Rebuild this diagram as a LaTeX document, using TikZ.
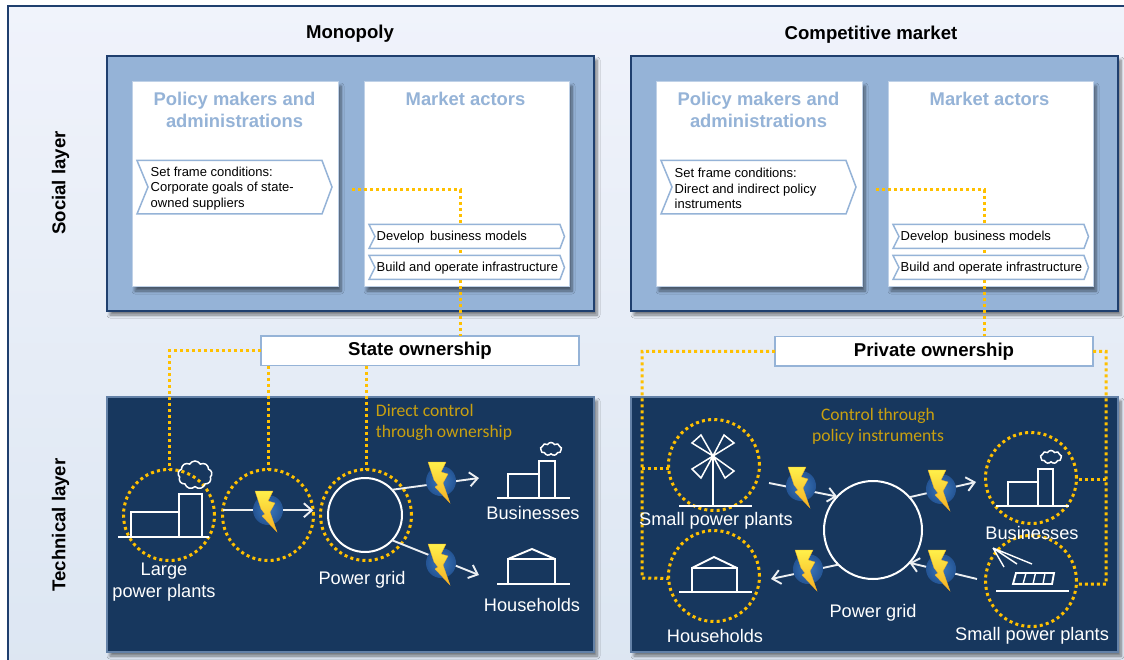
\documentclass[tikz,border=0pt]{standalone}
\usepackage{fontspec}
\setmainfont{Liberation Sans}
\newfontfamily\calib{Carlito}
\usetikzlibrary{arrows.meta,shapes.symbols,shadows.blur,calc}
\definecolor{navy}{HTML}{17375E}
\definecolor{edge}{HTML}{1F3F6E}
\definecolor{mid}{HTML}{95B3D7}
\definecolor{amber}{HTML}{FFC000}
\definecolor{gold}{HTML}{C9A010}
\definecolor{bgtop}{HTML}{F0F3FB}
\definecolor{bgbot}{HTML}{DCE6F2}
\definecolor{ballin}{HTML}{3B78BC}
\definecolor{ballout}{HTML}{245494}
\definecolor{boltA}{HTML}{FFF04A}
\definecolor{boltB}{HTML}{F5B025}
\tikzset{
  softshadow/.style={blur shadow={shadow xshift=3pt,shadow yshift=-4pt,shadow blur steps=6,shadow blur radius=3pt,shadow opacity=50}},
  panelS/.style={draw=edge,line width=1.6pt,fill=mid,anchor=north west,inner sep=0pt,outer sep=0pt,minimum width=487pt,minimum height=255pt,softshadow},
  panelT/.style={panelS,fill=navy,draw=mid!60!navy},
  whitebox/.style={draw=mid!60,line width=1pt,fill=white,anchor=north west,inner sep=0pt,outer sep=0pt,minimum width=206pt,minimum height=205pt,softshadow},
  ownbox/.style={draw=mid,line width=1.5pt,fill=white,anchor=north west,inner sep=0pt,outer sep=0pt,minimum width=318pt,minimum height=29.5pt,font=\fontsize{18.6}{20}\selectfont\bfseries},
  chev/.style={draw=mid,line width=1.5pt,fill=white,line join=miter},
  chevtext/.style={anchor=west,align=left,inner sep=0pt,font=\fontsize{13}{15.6}\selectfont},
  head/.style={text=mid,align=center,font=\fontsize{18.4}{21.5}\selectfont\bfseries,inner sep=0pt},
  title/.style={font=\fontsize{18.6}{21}\selectfont\bfseries,inner sep=0pt},
  ctl/.style={draw=amber,line width=3pt,dash pattern=on 3pt off 3pt},
  ring/.style={circle,draw=amber,line width=3pt,dash pattern=on 3pt off 3.2pt,inner sep=0pt,outer sep=0pt,minimum size=91pt},
  gridring/.style={circle,draw=white,line width=2pt,inner sep=0pt,outer sep=0pt},
  icon/.style={draw=white,line width=1.9pt,line join=miter},
  flow/.style={draw=white!92!navy,line width=1.9pt,-{Straight Barb[length=8pt,width=14pt,line width=1.9pt]}},
  lab/.style={text=white,align=center,inner sep=0pt,font=\fontsize{18.2}{22}\selectfont},
  goldlab/.style={text=gold,align=left,inner sep=0pt,font=\calib\fontsize{17.6}{21}\selectfont},
  ballnode/.style={circle,inner sep=0pt,minimum size=30pt,inner color=ballin,outer color=ballout},
  smoke/.style={cloud,cloud puffs=9,cloud puff arc=120,draw=white,line width=1.5pt,inner sep=0pt,outer sep=0pt,aspect=1.5}
}
\newcommand{\boltball}[3]{%
  \node[ballnode] (#1) at (#2,#3) {};
  \begin{scope}[shift={(#2,#3)}]
    \path[top color=boltA,bottom color=boltB,draw=boltB,line width=.3pt,line join=miter]
      (-13,-19) -- (5,-19) -- (0,-9) -- (7,-7) -- (2,2) -- (9,22) -- (-6,6) -- (-3,4) -- (-7,-1) -- cycle;
  \end{scope}}
\begin{document}
\begin{tikzpicture}[x=1pt,y=-1pt]
\useasboundingbox (0,0) rectangle (1124,660);
\fill[white] (0,0) rectangle (1124,660);
% background frame
\path[draw=edge,line width=2pt,top color=bgtop,bottom color=bgbot] (8,6) rectangle (1140,680);

% titles
\node[title] (tm) at (350,34) {Monopoly};
\node[title] (tc) at (871,35) {Competitive market};
\node[title,rotate=90] (ls) at (60.5,183) {Social layer};
\node[title,rotate=90] (lt) at (60.5,525) {Technical layer};

% social panels
\node[panelS] (sl) at (107,56) {};
\node[panelS] (sr) at (631,56) {};
\node[whitebox] (pl) at (132,82) {};
\node[whitebox,minimum width=205pt] (ml) at (364,82) {};
\node[whitebox] (pr) at (656,82) {};
\node[whitebox,minimum width=205pt] (mr) at (888,82) {};
\node[head] (hpl) at (234.5,110) {Policy makers and\\administrations};
\node[head] (hml) at (465.5,99) {Market actors};
\node[head] (hpr) at (758.5,110) {Policy makers and\\administrations};
\node[head] (hmr) at (989.5,99) {Market actors};

% technical panels
\node[panelT] (tl) at (107,397) {};
\node[panelT] (tr) at (631,397) {};

% ownership boxes
\coordinate (sgL) at (352,190);
\coordinate (sgR) at (876,190);
\node[ownbox] (own) at (261,336) {State ownership};
\node[ownbox] (prv) at (775,336.5) {Private ownership};
\coordinate (ownIn) at (460,336);
\coordinate (prvIn) at (984,336);
\draw[ctl] (sgL) -| (ownIn);
\draw[ctl] (sgR) -| (prvIn);

% chevrons, left
\draw[chev] (137,160.5) -- (322,160.5) -- (332,187) -- (322,214) -- (137,214) -- (148,187) -- cycle;
\node[chevtext] (cl) at (150.5,188.5) {Set frame conditions:\\Corporate goals of state-\\owned suppliers};
\draw[chev] (369,224.5) -- (560,224.5) -- (564.5,236.5) -- (560,248.5) -- (369,248.5) -- (375,236.5) -- cycle;
\node[chevtext] (dl) at (376.5,237.5) {Develop\, business models};
\draw[chev] (369,255.5) -- (560,255.5) -- (564.5,267.5) -- (560,279.5) -- (369,279.5) -- (375,267.5) -- cycle;
\node[chevtext] (bl) at (376.5,268.5) {Build and operate infrastructure};
% chevrons, right
\draw[chev] (661,160.5) -- (846,160.5) -- (856,187) -- (846,214) -- (661,214) -- (672,187) -- cycle;
\node[chevtext] (cr) at (674.5,188.5) {Set frame conditions:\\Direct and indirect policy\\instruments};
\draw[chev] (893,224.5) -- (1084,224.5) -- (1088.5,236.5) -- (1084,248.5) -- (893,248.5) -- (899,236.5) -- cycle;
\node[chevtext] (dr) at (900.5,237.5) {Develop\, business models};
\draw[chev] (893,255.5) -- (1084,255.5) -- (1088.5,267.5) -- (1084,279.5) -- (893,279.5) -- (899,267.5) -- cycle;
\node[chevtext] (br) at (900.5,268.5) {Build and operate infrastructure};

% ---------- left technical ----------
\node[ring] (c1) at (169,515) {};
\node[ring] (c2) at (268,515) {};
\node[ring] (c3) at (366,515) {};
\node[gridring,minimum size=74pt] (g1) at (365,515) {};
\draw[ctl] (own.west) -| (c1.north);
\draw[ctl] (c2.north |- own.south) -- (c2.north);
\draw[ctl] (c3.north |- own.south) -- (c3.north);
% large plant icon
\draw[icon] (118,537) -- (209,537);
\draw[icon] (131,537) -- (131,512) -- (179,512) -- (179,537);
\draw[icon] (179,512) -- (179,494) -- (202,494) -- (202,537);
\node[smoke,minimum width=34pt,minimum height=28pt] (s1) at (195,475) {};
% flows
\draw[flow] (c2.174) -- (c2.6);
\boltball{b1}{268}{510}
\coordinate (e2) at (479,478);
\coordinate (e3) at (479,575);
\draw[flow] (g1.43) -- (e2);
\draw[flow] (g1.-43) -- (e3);
\boltball{b2}{441}{481}
\boltball{b3}{441}{563}
% business
\draw[icon] (497,498) -- (570,498);
\draw[icon] (508,498) -- (508,474) -- (539,474) -- (539,498);
\draw[icon] (539,474) -- (539,461) -- (555,461) -- (555,498);
\node[smoke,minimum width=21pt,minimum height=13pt] (s2) at (551,449) {};
% household
\draw[icon] (497,584) -- (570,584);
\draw[icon] (508,584) -- (508,559) -- (555,559) -- (555,584);
\draw[icon] (508,559) -- (532,549) -- (555,559);
% labels
\node[lab] (l1) at (164,582) {Large\\power plants};
\node[lab] (l2) at (362,580) {Power grid};
\node[lab] (l3) at (533,513) {Businesses};
\node[lab] (l4) at (532,605) {Households};
\node[goldlab] (g1t) at (444,422.5) {Direct control\\through ownership};

% ---------- right technical ----------
\node[ring] (wi) at (714,465) {};
\node[ring] (hh) at (714,576) {};
\node[ring] (bu) at (1031,478) {};
\node[ring] (sp) at (1031,581) {};
\node[gridring,minimum size=98pt] (g2) at (873,530) {};
\coordinate (railL) at (642,578);
\coordinate (railR) at (1106,584);
\draw[ctl] (prv.west) -| (railL) -- (hh.183);
\draw[ctl] (railL |- wi.185) -- (wi.185);
\draw[ctl] (prv.east) -| (railR) -- (sp.-4);
\draw[ctl] (railR |- bu.-2) -- (bu.-2);
% wind
\draw[icon] (679,506) -- (752,506);
\draw[icon] (713,506) -- (713,456);
\draw[icon,line width=1.5pt] (713,456) -- (692,443) -- (701,435) -- cycle;
\draw[icon,line width=1.5pt] (713,456) -- (734,443) -- (724,435) -- cycle;
\draw[icon,line width=1.5pt] (713,456) -- (692,469) -- (701,478) -- cycle;
\draw[icon,line width=1.5pt] (713,456) -- (734,471) -- (725,478) -- cycle;
% household right
\draw[icon] (679,592) -- (752,592);
\draw[icon] (692,592) -- (692,568) -- (737,568) -- (737,592);
\draw[icon] (692,568) -- (714,557) -- (737,568);
% business right
\draw[icon] (996,506) -- (1069,506);
\draw[icon] (1008,506) -- (1008,482) -- (1038,482) -- (1038,506);
\draw[icon] (1038,482) -- (1038,469) -- (1053,469) -- (1053,506);
\node[smoke,minimum width=21pt,minimum height=13pt] (s3) at (1051,457) {};
% solar
\draw[icon] (996,591) -- (1069,591);
\draw[icon] (1016,573) -- (1054,573) -- (1052,584) -- (1013,584) -- cycle;
\draw[icon,line width=1.4pt] (1026,573) -- (1023,584) (1035.5,573) -- (1033,584) (1045,573) -- (1043,584);
\draw[icon,line width=1.4pt] (993,548) -- (1032,564) (993,548) -- (1017,564) (993,548) -- (1004,567);
% flows right
\coordinate (wo) at (769,483);
\coordinate (bi) at (976,482);
\coordinate (so) at (977,579);
\coordinate (hi) at (771,579);
\draw[flow] (wo) -- (g2.137);
\draw[flow] (g2.42) -- (bi);
\draw[flow] (so) -- (g2.-42);
\draw[flow] (g2.-135) -- (hi);
\boltball{b4}{801}{486}
\boltball{b5}{941}{489}
\boltball{b6}{941}{569}
\boltball{b7}{808}{569}
% labels
\node[lab] (r1) at (716,521) {Small power plants};
\node[lab] (r2) at (1032,533) {Businesses};
\node[lab] (r3) at (715,636) {Households};
\node[lab] (r4) at (1032,636) {Small power plants};
\node[lab] (r5) at (873,613) {Power grid};
\node[goldlab,align=center] (g2t) at (878,426.5) {Control through\\policy instruments};
\end{tikzpicture}
\end{document}
